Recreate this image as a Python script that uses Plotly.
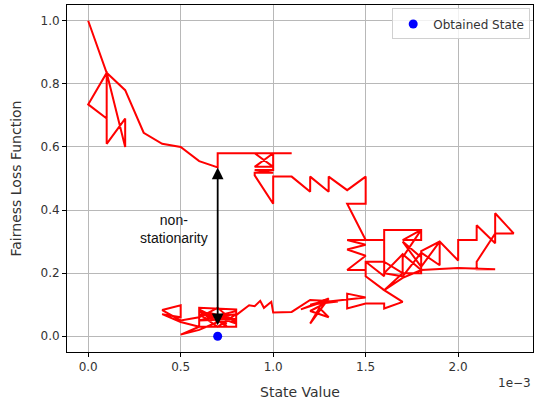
import plotly.graph_objects as go

# State values (in units of 1e-3) and fairness loss along the trajectory
state_e3 = [
    0.0, 0.1, 0.0, 0.1, 0.1, 0.1, 0.2, 0.2, 0.1, 0.2, 0.3, 0.4, 0.5, 0.6, 0.7, 0.7, 1.1,
    0.9, 1.0, 0.9, 1.0, 1.0, 0.9, 1.0, 0.9, 0.9, 1.0, 1.0, 1.1, 1.2, 1.2, 1.3, 1.3, 1.4, 1.5, 1.5, 1.4,
    1.5, 1.6, 1.4, 1.5, 1.4, 1.5, 1.4, 1.5, 1.5, 1.6, 1.6, 1.5, 1.5, 1.6, 1.7, 1.6, 1.6, 1.8, 1.8, 1.7,
    1.8, 1.7, 1.7, 1.8, 1.8, 1.7, 1.8, 1.9, 1.9, 1.8, 1.7, 1.6, 1.7, 1.8, 1.8, 1.9, 2.0, 2.0, 2.1, 2.1,
    2.2, 2.2, 2.3, 2.2, 2.1, 2.1, 2.2, 2.0, 1.8, 1.7, 1.6, 1.7, 1.6, 1.6, 1.5, 1.4, 1.4, 1.5, 1.3,
    1.2, 1.3, 1.25, 1.2, 1.3, 1.15, 1.3, 1.2, 1.35, 1.2, 1.1, 1.0, 0.99, 0.95, 0.93, 0.9, 0.87, 0.8,
    0.8, 0.6, 0.6, 0.8, 0.8, 0.6, 0.8, 0.6, 0.7, 0.8, 0.65, 0.6, 0.8, 0.7, 0.6, 0.5, 0.4, 0.5, 0.5,
    0.4, 0.5, 0.6, 0.5, 0.6, 0.7, 0.6, 0.75, 0.65, 0.8, 0.7, 0.75, 0.7,
]
loss = [
    1.00, 0.835, 0.735, 0.69, 0.84, 0.61, 0.69, 0.60, 0.835, 0.78, 0.645, 0.61, 0.60, 0.555, 0.535, 0.58, 0.58,
    0.58, 0.537, 0.537, 0.58, 0.527, 0.527, 0.518, 0.518, 0.51, 0.42, 0.506, 0.506, 0.458, 0.506, 0.458, 0.506, 0.463, 0.506, 0.42, 0.42,
    0.305, 0.305, 0.305, 0.29, 0.275, 0.255, 0.21, 0.21, 0.236, 0.236, 0.19, 0.236, 0.19, 0.146, 0.20, 0.236, 0.337, 0.337, 0.305, 0.305,
    0.337, 0.25, 0.20, 0.20, 0.25, 0.30, 0.22, 0.30, 0.225, 0.265, 0.19, 0.20, 0.26, 0.21, 0.27, 0.30, 0.24, 0.305, 0.305, 0.352,
    0.295, 0.39, 0.326, 0.326, 0.236, 0.212, 0.212, 0.216, 0.21, 0.185, 0.146, 0.109, 0.088, 0.104, 0.104, 0.088, 0.135, 0.123, 0.11,
    0.08, 0.06, 0.09, 0.04, 0.12, 0.085, 0.115, 0.10, 0.11, 0.115, 0.077, 0.075, 0.109, 0.09, 0.112, 0.095, 0.098, 0.067,
    0.085, 0.09, 0.03, 0.03, 0.08, 0.05, 0.055, 0.07, 0.03, 0.07, 0.06, 0.08, 0.04, 0.09, 0.06, 0.05, 0.083, 0.098, 0.06,
    0.07, 0.045, 0.03, 0.005, 0.02, 0.045, 0.085, 0.04, 0.075, 0.05, 0.065, 0.03, 0.05,
]

obtained_state_e3 = [0.7]
obtained_loss = [0.0]

arrow_x_e3 = 0.7
arrow_top = 0.535
arrow_bottom = 0.03

x_ticks_e3 = [0.0, 0.5, 1.0, 1.5, 2.0]
x_tick_labels = ["0.0", "0.5", "1.0", "1.5", "2.0"]
y_ticks = [0.0, 0.2, 0.4, 0.6, 0.8, 1.0]
y_tick_labels = ["0.0", "0.2", "0.4", "0.6", "0.8", "1.0"]

scale = 1e-3
xs = [v * scale for v in state_e3]

fig = go.Figure()
fig.add_trace(go.Scatter(x=xs, y=loss, mode="lines",
                         line=dict(color="#ff0000", width=2), showlegend=False))
fig.add_trace(go.Scatter(x=[v * scale for v in obtained_state_e3], y=obtained_loss,
                         mode="markers", name="Obtained State",
                         marker=dict(color="#0000ff", size=9)))

fig.add_annotation(x=arrow_x_e3 * scale, y=arrow_top, ax=arrow_x_e3 * scale, ay=arrow_bottom,
                   xref="x", yref="y", axref="x", ayref="y", text="", showarrow=True,
                   arrowhead=2, startarrowhead=2, arrowside="end+start",
                   arrowsize=1.3, startarrowsize=1.3, arrowwidth=1.8, arrowcolor="black")
fig.add_annotation(x=0.466 * scale, y=0.34, xref="x", yref="y", text="non-<br>stationarity",
                   showarrow=False, font=dict(family="Liberation Sans, Arial", size=14, color="#111"),
                   align="center")
fig.add_annotation(x=1.0, y=-0.088, xref="paper", yref="paper", xanchor="right", yanchor="middle",
                   text="1e\u22123", showarrow=False,
                   font=dict(family="DejaVu Sans", size=12, color="#333"))

axis_common = dict(showline=True, linecolor="black", linewidth=1, mirror=True,
                   showgrid=True, gridcolor="#b8b8b8", gridwidth=1, zeroline=False,
                   ticks="outside", ticklen=4, tickcolor="black",
                   tickfont=dict(family="DejaVu Sans", size=12, color="#333"))

fig.update_xaxes(range=[-0.1145e-3, 2.4045e-3], tickvals=[v * scale for v in x_ticks_e3],
                 ticktext=x_tick_labels,
                 title=dict(text="State Value", font=dict(family="DejaVu Sans", size=14, color="#333"),
                            standoff=13),
                 **axis_common)
fig.update_yaxes(range=[-0.05, 1.05], tickvals=y_ticks, ticktext=y_tick_labels,
                 title=dict(text="Fairness Loss Function",
                            font=dict(family="DejaVu Sans", size=14, color="#333"), standoff=15),
                 **axis_common)

fig.update_layout(width=537, height=401, margin=dict(l=67, r=4, t=5, b=49),
                  plot_bgcolor="white", paper_bgcolor="white",
                  legend=dict(x=0.994, y=0.99, xanchor="right", yanchor="top",
                              bgcolor="rgba(255,255,255,0.8)", bordercolor="#d0d0d0", borderwidth=1,
                              font=dict(family="DejaVu Sans", size=12, color="#333")))

fig.write_html("out.html")
